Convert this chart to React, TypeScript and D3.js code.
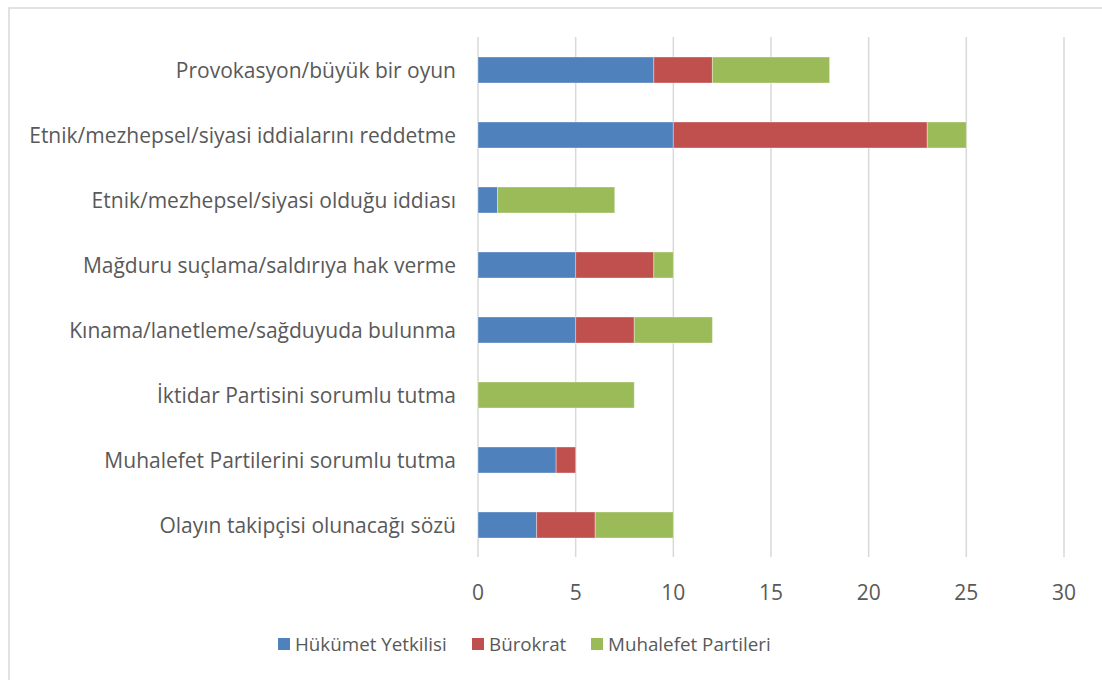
import React from "react";
import * as d3 from "d3";

const categories = [
  "Provokasyon/büyük bir oyun",
  "Etnik/mezhepsel/siyasi iddialarını reddetme",
  "Etnik/mezhepsel/siyasi olduğu iddiası",
  "Mağduru suçlama/saldırıya hak verme",
  "Kınama/lanetleme/sağduyuda bulunma",
  "İktidar Partisini sorumlu tutma",
  "Muhalefet Partilerini sorumlu tutma",
  "Olayın takipçisi olunacağı sözü",
];
const seriesNames = ["Hükümet Yetkilisi", "Bürokrat", "Muhalefet Partileri"];
const hukumet = [9, 10, 1, 5, 5, 0, 4, 3];
const burokrat = [3, 13, 0, 4, 3, 0, 1, 3];
const muhalefet = [6, 2, 6, 1, 4, 8, 0, 4];
const xTicks = [0, 5, 10, 15, 20, 25, 30];
const colors = ["#4F81BD", "#C0504D", "#9BBB59"];

const FONT = "'Open Sans', sans-serif";
const TEXT = "#595959";

export default function App() {
  const W = 1102, H = 680;
  const x = d3.scaleLinear().domain([0, 30]).range([478, 1064]);
  const y = d3.scaleBand().domain(categories).range([37.5, 557.5]).paddingInner(0.6).paddingOuter(0.3);
  const rows = categories.map((c, i) => ({ c, v0: hukumet[i], v1: burokrat[i], v2: muhalefet[i] }));
  const stack = d3.stack<any>().keys(["v0", "v1", "v2"])(rows);
  return (
    <svg width={W} height={H} style={{ position: "absolute", left: 0, top: 0 }}>
      <rect x={0} y={0} width={W} height={H} fill="#fff" />
      <rect x={9} y={8} width={W} height={H} fill="#fff" stroke="#D9D9D9" strokeWidth={1.5} />
      {xTicks.map((t) => (
        <line key={t} x1={x(t)} x2={x(t)} y1={37} y2={557} stroke="#D9D9D9" strokeWidth={1.5} />
      ))}
      {stack.map((s, si) =>
        s.map((d: any, i: number) =>
          d[1] - d[0] > 0 ? (
            <rect
              key={si + "-" + i}
              x={x(d[0])}
              width={x(d[1]) - x(d[0])}
              y={y(categories[i])!}
              height={y.bandwidth()}
              fill={colors[si]}
              stroke="#ffffff"
              strokeOpacity={0.35}
              strokeWidth={1}
            />
          ) : null
        )
      )}
      {categories.map((c) => (
        <text key={c} x={456} y={y(c)! + y.bandwidth() / 2 + 8} textAnchor="end"
          fontFamily={FONT} fontSize={21} fill={TEXT}>{c}</text>
      ))}
      {xTicks.map((t) => (
        <text key={t} x={x(t)} y={600} textAnchor="middle" fontFamily={FONT} fontSize={21} fill={TEXT}>{t}</text>
      ))}
      {seriesNames.map((n, i) => {
        const lx = [278, 472, 591][i];
        return (
          <g key={n}>
            <rect x={lx} y={638} width={12} height={12} fill={colors[i]} />
            <text x={lx + 17} y={651} fontFamily={FONT} fontSize={18.8} fill={TEXT}>{n}</text>
          </g>
        );
      })}
    </svg>
  );
}
